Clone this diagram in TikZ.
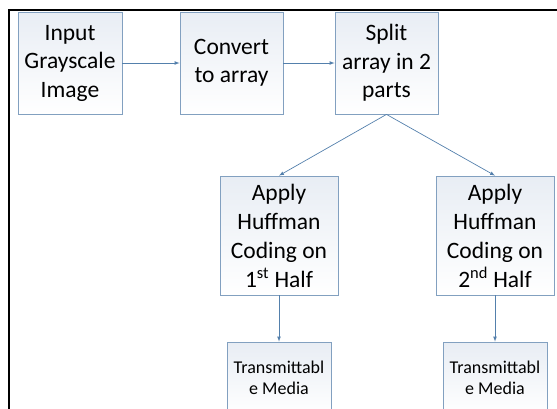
\documentclass[tikz,border=0pt]{standalone}
\usepackage{fontspec}
\setmainfont{Carlito}
\definecolor{boxline}{RGB}{130,160,192}
\definecolor{boxtop}{RGB}{232,237,244}
\definecolor{arrowblue}{RGB}{84,128,172}
\begin{document}
\begin{tikzpicture}[x=1pt,y=-1pt,
  stage/.style={draw=boxline, line width=0.8pt, top color=boxtop, bottom color=white,
    align=center, inner sep=0pt, font=\fontsize{23.5}{28.5}\selectfont},
  coding/.style={stage, font=\fontsize{23.5}{29}\selectfont},
  media/.style={stage, font=\fontsize{18}{21.5}\selectfont},
  flow/.style={draw=arrowblue, line width=0.7pt, -latex}]
  \def \pw {557}
  \def \ph {408}

  \useasboundingbox (0,0) rectangle (\pw,\ph);
  \draw[line width=2pt, black] (9,\ph+2) -- (9,10) -- (\pw+2,10);

  % top row
  \node[stage, minimum width=104pt, minimum height=102pt] (input) at (70,63)
    {Input\\Grayscale\\Image};
  \node[stage, minimum width=103pt, minimum height=102pt] (convert) at (231.5,63)
    {Convert\\to array};
  \node[stage, minimum width=103pt, minimum height=102pt] (split) at (386.5,63)
    {Split\\array in 2\\parts};

  % coding boxes
  \node[coding, minimum width=118pt, minimum height=119pt] (huffA) at (279,235.5)
    {Apply\\Huffman\\Coding on\\1\textsuperscript{st} Half};
  \node[coding, minimum width=118pt, minimum height=119pt] (huffB) at (495,235.5)
    {Apply\\Huffman\\Coding on\\2\textsuperscript{nd} Half};

  % media boxes
  \node[media, minimum width=104pt, minimum height=72pt] (mediaA) at (279,378)
    {Transmittabl\\e Media};
  \node[media, minimum width=104pt, minimum height=72pt] (mediaB) at (495,378)
    {Transmittabl\\e Media};

  \draw[flow] (input) -- (convert);
  \draw[flow] (convert) -- (split);
  \draw[flow] (split.south) -- (huffA.north);
  \draw[flow] (split.south) -- (huffB.north);
  \draw[flow] (huffA.south) -- (mediaA.north);
  \draw[flow] (huffB.south) -- (mediaB.north);
\end{tikzpicture}
\end{document}
